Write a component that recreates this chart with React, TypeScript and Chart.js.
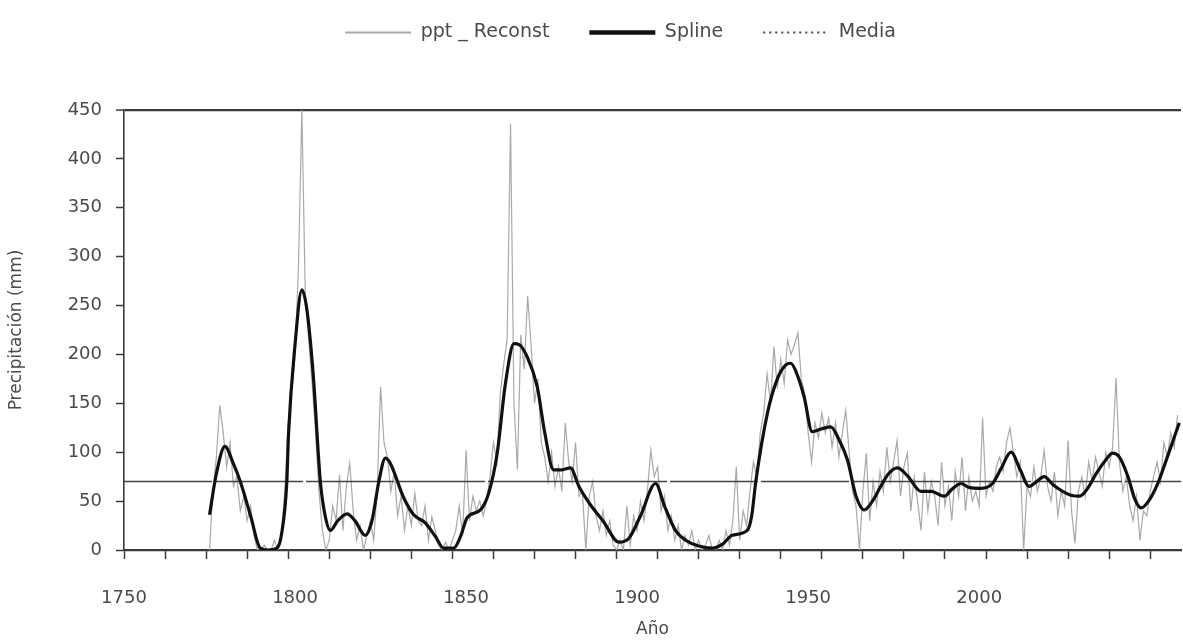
import React, { useEffect, useRef } from 'react';
import { Chart, registerables } from 'chart.js';

Chart.register(...registerables);

// ---- axis ranges & ticks ----
const X_MIN = 1750;
const X_MAX = 2059;
const labelYears = [1750, 1800, 1850, 1900, 1950, 2000];
const MINOR_STEP = 12;
const Y_MIN = 0;
const Y_MAX = 450;
const Y_STEP = 50;

// ---- series: ppt _ Reconst (annual, starting year below) ----
const pptStartYear = 1775;
const pptReconst = [
  0, 60, 95, 148, 120, 85, 110, 65, 75, 40,
  55, 30, 45, 15, 0, 0, 5, 0, 0, 10,
  0, 15, 60, 130, 160, 200, 290, 450, 260, 215,
  170, 120, 60, 20, 0, 10, 45, 30, 77, 20,
  65, 89, 40, 10, 25, 0, 15, 30, 10, 60,
  167, 110, 95, 60, 80, 35, 55, 20, 45, 25,
  58, 30, 25, 45, 10, 34, 20, 5, 0, 8,
  0, 10, 20, 45, 15, 102, 30, 55, 40, 50,
  35, 50, 75, 110, 90, 160, 190, 215, 436, 150,
  82, 220, 185, 260, 210, 150, 175, 110, 95, 70,
  100, 65, 85, 60, 130, 90, 70, 110, 55, 60,
  0, 55, 70, 35, 20, 40, 15, 30, 5, 0,
  10, 0, 45, 5, 35, 20, 50, 30, 60, 102,
  75, 85, 40, 55, 20, 35, 10, 25, 0, 15,
  5, 20, 0, 10, 0, 5, 15, 0, 0, 10,
  0, 20, 5, 30, 85, 10, 40, 25, 60, 90,
  75, 120, 140, 180, 150, 208, 165, 195, 170, 215,
  200, 210, 222, 175, 160, 120, 90, 130, 115, 140,
  120, 135, 105, 130, 95, 120, 143, 100, 60, 45,
  0, 60, 99, 30, 70, 45, 80, 60, 105, 70,
  90, 112, 55, 85, 99, 40, 75, 50, 20, 80,
  40, 70, 55, 25, 90, 45, 65, 30, 80, 55,
  95, 40, 75, 50, 60, 45, 135, 55, 70, 60,
  85, 95, 80, 110, 125, 100, 75, 90, 0, 65,
  55, 85, 60, 75, 102, 65, 50, 80, 35, 60,
  45, 112, 40, 7, 60, 75, 55, 90, 70, 95,
  80, 65, 100, 85, 105, 176, 90, 60, 75, 45,
  30, 55, 10, 40, 35, 60, 75, 90, 70, 110,
  95, 120, 105, 138,
];

// ---- series: Spline (read at key years) ----
const splineYears = [
  1775, 1777, 1779.5, 1782, 1784, 1787, 1789.8, 1792, 1794.7, 1796, 1797.6, 1798.1, 1800, 1802, 1803.5,
  1805.3, 1807.4, 1808.8, 1810.3, 1812.5, 1815.2, 1817.5, 1820.5, 1822.5, 1824.5, 1826.4, 1827.8, 1831.7,
  1834.7, 1838, 1841, 1843.4, 1846.4, 1848.5, 1850.3, 1854.2, 1856.6, 1859.1, 1861.5, 1864, 1865.5, 1867.8,
  1870.8, 1873, 1875.6, 1878, 1880.5, 1883, 1886.4, 1890, 1894.7, 1897.6, 1901, 1905.4, 1908, 1911.2,
  1914.2, 1918, 1922, 1925, 1927.8, 1932.2, 1933.5, 1934.7, 1938.1, 1941, 1943.4, 1944.9, 1946.5, 1948.8,
  1951.2, 1954, 1956.6, 1959, 1961.5, 1964, 1966.4, 1968.8, 1971.2, 1973.5, 1976.1, 1979, 1983, 1986,
  1989.8, 1992, 1994.7, 1997, 2000.5, 2003.9, 2006.5, 2009.3, 2012, 2014.6, 2016.8, 2019, 2021.5, 2024.4,
  2026.8, 2029.3, 2031.5, 2034.2, 2037, 2039, 2041, 2043.5, 2045.5, 2047.3, 2049.5, 2052.2, 2055, 2058.5,
];
const splineValues = [
  36, 78, 106, 88, 70, 35, 2, 0, 2, 15, 70, 119, 210, 266, 245,
  180, 70, 35, 20, 30, 37, 30, 15, 30, 70, 94, 89, 54,
  36, 28, 14, 2, 2, 15, 33, 41, 58, 99, 170, 211, 210, 198,
  167, 120, 82, 82, 84, 65, 46, 30, 8, 12, 35, 68, 45, 20,
  10, 4, 2, 6, 15, 20, 35, 70, 140, 175, 189, 191, 182, 157,
  121, 124, 126, 113, 92, 55, 41, 50, 65, 78, 84, 76, 60, 60,
  55, 62, 68, 64, 63, 68, 84, 100, 82, 65, 70, 75, 67, 60,
  56, 55, 62, 78, 92, 99, 95, 75, 52, 43, 50, 68, 95, 130,
];

// ---- Media ----
const mediaValue = 70;

const seriesNames = ['ppt _ Reconst', 'Spline', 'Media'];

const FONT = '"DejaVu Sans", "Liberation Sans", sans-serif';
const TEXT = '#4a4a4a';
const AXIS = '#3a3a3a';
const RAW = '#a9a9a9';
const SPLINE = '#111111';
const MEDIA = '#444444';
const CLEAR = 'rgba(0,0,0,0)';

const minorTicks: number[] = [];
for (let v = X_MIN; v <= X_MAX; v += MINOR_STEP) minorTicks.push(v);

export default function App() {
  const ref = useRef<HTMLCanvasElement>(null);

  useEffect(() => {
    const canvas = ref.current;
    if (!canvas) return;

    const rawData = pptReconst.map((v, i) => ({ x: pptStartYear + i, y: v }));
    const splineData = splineYears.map((yr, i) => ({ x: yr, y: splineValues[i] }));
    const mediaData = [
      { x: X_MIN, y: mediaValue },
      { x: X_MAX, y: mediaValue },
    ];

    const legendPlacer = {
      id: 'legendPlacer',
      beforeInit(chart: any) {
        const lg = chart.legend;
        if (!lg) return;
        const origFit = lg.fit;
        lg.fit = function () {
          origFit.call(this);
          this.height = 100;
        };
        const origDraw = lg.draw;
        lg.draw = function (...args: any[]) {
          const { left, right, top } = this;
          this.left = left + 28;
          this.right = right + 28;
          this.top = top - 27;
          origDraw.apply(this, args);
          this.left = left;
          this.right = right;
          this.top = top;
        };
      },
    };

    const chart = new Chart(canvas, {
      type: 'line',
      data: {
        datasets: [
          {
            label: seriesNames[0],
            data: rawData,
            borderColor: RAW,
            borderWidth: 1.2,
            pointRadius: 0,
            tension: 0,
            order: 3,
          },
          {
            label: seriesNames[2],
            data: mediaData,
            borderColor: MEDIA,
            borderWidth: 1.6,
            borderDash: [88, 3],
            pointRadius: 0,
            order: 2,
          },
          {
            label: seriesNames[1],
            data: splineData,
            borderColor: SPLINE,
            borderWidth: 3.2,
            pointRadius: 0,
            cubicInterpolationMode: 'monotone',
            order: 1,
          },
        ],
      },
      options: {
        animation: false,
        responsive: false,
        layout: { padding: { top: 10, left: 4, right: 2, bottom: 0 } },
        plugins: {
          tooltip: { enabled: false },
          legend: {
            display: true,
            position: 'top',
            labels: {
              usePointStyle: true,
              pointStyleWidth: 66,
              padding: 40,
              color: TEXT,
              font: { family: FONT, size: 19 },
              generateLabels: () => [
                { text: seriesNames[0], strokeStyle: RAW, fillStyle: RAW, lineWidth: 2, pointStyle: 'line', hidden: false, datasetIndex: 0, fontColor: TEXT },
                { text: seriesNames[1], strokeStyle: SPLINE, fillStyle: SPLINE, lineWidth: 4.5, pointStyle: 'line', hidden: false, datasetIndex: 2, fontColor: TEXT },
                { text: seriesNames[2], strokeStyle: MEDIA, fillStyle: MEDIA, lineWidth: 2, lineDash: [2, 4], pointStyle: 'line', hidden: false, datasetIndex: 1, fontColor: TEXT },
              ] as any,
            },
          },
        },
        scales: {
          x: {
            type: 'linear',
            min: X_MIN,
            max: X_MAX,
            afterBuildTicks: (scale: any) => {
              const vals = Array.from(new Set([...labelYears, ...minorTicks])).sort((a, b) => a - b);
              scale.ticks = vals.map((v) => ({ value: v }));
            },
            afterFit: (scale: any) => {
              scale.height = 94;
            },
            ticks: {
              autoSkip: false,
              maxRotation: 0,
              padding: 29,
              color: TEXT,
              font: { family: FONT, size: 18 },
              callback: (value: any) => (labelYears.includes(Number(value)) ? String(value) : ''),
            },
            grid: {
              drawOnChartArea: false,
              drawTicks: true,
              tickLength: 9,
              tickWidth: 1.5,
              tickColor: (ctx: any) => (ctx.tick && minorTicks.includes(ctx.tick.value) ? AXIS : CLEAR),
            },
            border: { display: true, color: AXIS, width: 2.2 },
            title: {
              display: true,
              text: 'Año',
              color: TEXT,
              font: { family: FONT, size: 17 },
              padding: { top: 4, bottom: 4 },
            },
          },
          y: {
            type: 'linear',
            min: Y_MIN,
            max: Y_MAX,
            afterFit: (scale: any) => {
              scale.width = 120;
            },
            ticks: {
              stepSize: Y_STEP,
              padding: 14,
              color: TEXT,
              font: { family: FONT, size: 18 },
            },
            grid: {
              drawOnChartArea: true,
              tickLength: 8,
              tickWidth: 1.5,
              tickColor: AXIS,
              color: (ctx: any) => (ctx.tick && ctx.tick.value === Y_MAX ? AXIS : CLEAR),
              lineWidth: (ctx: any) => (ctx.tick && ctx.tick.value === Y_MAX ? 2.2 : 1),
            },
            border: { display: true, color: AXIS, width: 1.6 },
            title: {
              display: true,
              text: 'Precipitación (mm)',
              color: TEXT,
              font: { family: FONT, size: 17 },
              padding: { top: 2, bottom: 4 },
            },
          },
        },
      },
      plugins: [legendPlacer],
    } as any);

    return () => chart.destroy();
  }, []);

  return (
    <div style={{ position: 'fixed', left: 0, top: 0, width: 1183, height: 644, background: '#fff' }}>
      <canvas ref={ref} width={1183} height={644} style={{ display: 'block' }} />
    </div>
  );
}
